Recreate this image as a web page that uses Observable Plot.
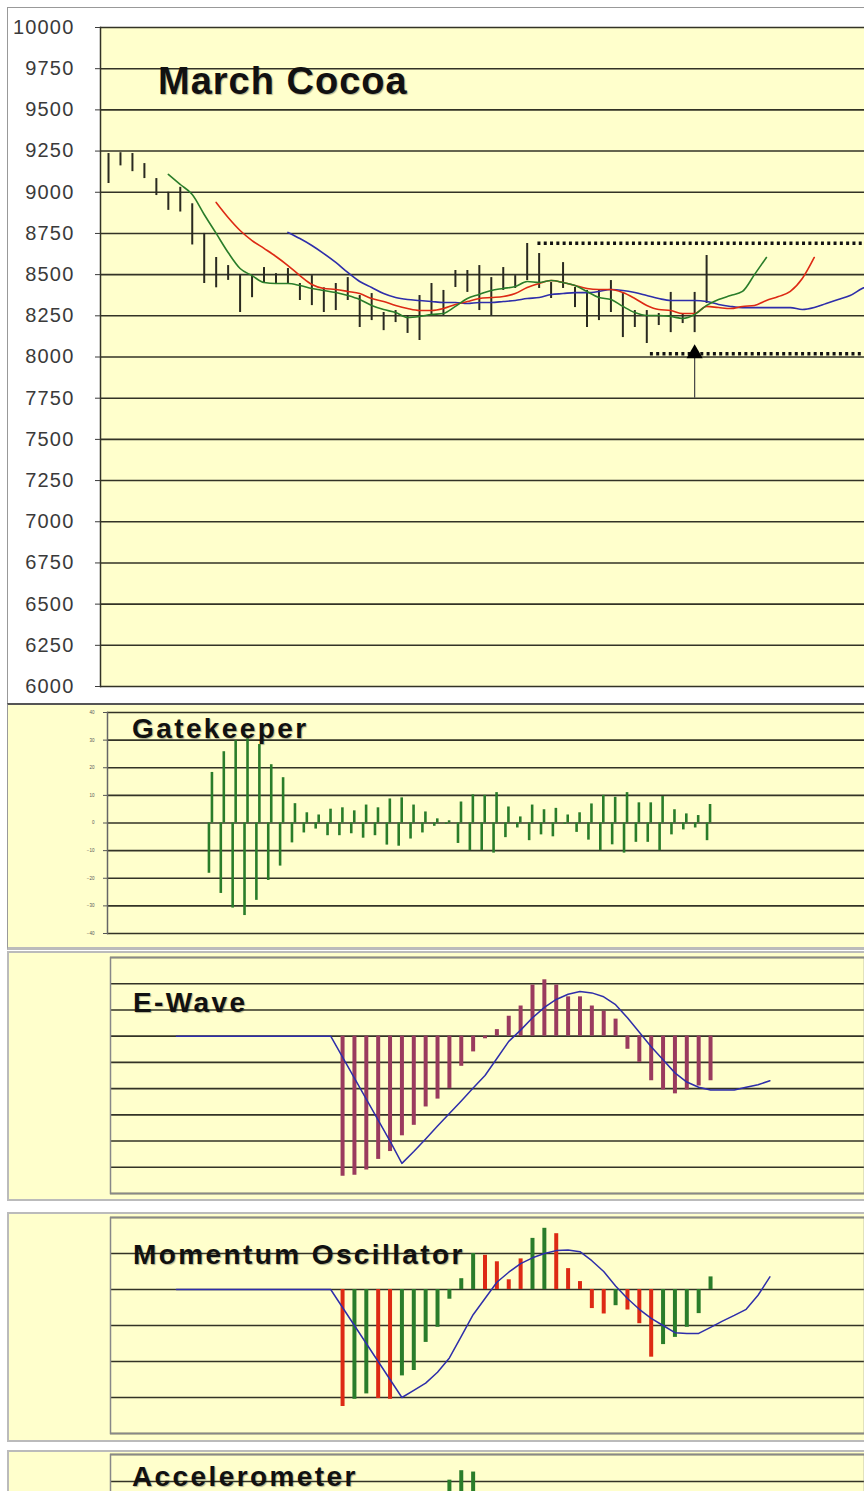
<!DOCTYPE html>
<html><head><meta charset="utf-8">
<script src="https://cdn.jsdelivr.net/npm/d3@7"></script>
<script src="https://cdn.jsdelivr.net/npm/@observablehq/plot@0.6"></script>
<style>
body{margin:0;background:#fff;}
#root{position:relative;width:864px;height:1491px;overflow:hidden;background:#fff;font-family:"Liberation Sans",Arial,sans-serif;}
.box{position:absolute;box-sizing:border-box;}
.chart{position:absolute;left:0;}
.title{position:absolute;font-weight:bold;font-size:28px;letter-spacing:2.4px;color:#111;white-space:nowrap;line-height:1;text-shadow:1px 1px 1px rgba(0,0,0,0.3);}
</style></head><body><div id="root"></div>
<script>
// ---------- DATA ----------
const priceTicks = [6000,6250,6500,6750,7000,7250,7500,7750,8000,8250,8500,8750,9000,9250,9500,9750,10000];
const priceHigh = [9235,9240,9235,9174,9083,9000,9030,8930,8750,8604,8555,8500,8494,8543,8506,8537,8446,8494,8420,8446,8482,8373,8385,8270,8282,8252,8373,8446,8404,8525,8525,8555,8482,8543,8494,8689,8628,8452,8573,8422,8404,8404,8464,8385,8282,8282,8264,8392,8264,8392,8616];
const priceLow  = [9053,9160,9125,9083,8980,8890,8880,8680,8446,8420,8465,8270,8360,8446,8446,8446,8343,8312,8270,8282,8343,8179,8221,8160,8209,8143,8100,8252,8252,8422,8392,8282,8252,8404,8416,8464,8416,8355,8416,8300,8179,8221,8270,8118,8179,8082,8191,8148,8203,8148,8325];
const maShortStart = 5;
const maShort = [9108,9047,8986,8865,8750,8634,8537,8494,8452,8446,8446,8434,8416,8404,8391,8373,8349,8313,8288,8270,8240,8246,8258,8264,8307,8355,8380,8404,8416,8428,8458,8452,8464,8452,8434,8398,8361,8349,8307,8270,8252,8252,8246,8234,8258,8313,8349,8373,8398,8500,8604];
const maMidStart = 9;
const maMid = [8938,8847,8768,8707,8659,8610,8555,8494,8440,8416,8410,8398,8385,8355,8337,8313,8294,8282,8282,8294,8319,8337,8355,8361,8367,8385,8422,8446,8464,8452,8434,8416,8410,8410,8391,8355,8313,8288,8282,8264,8264,8307,8300,8294,8307,8313,8343,8367,8398,8476,8604];
const maLongStart = 15;
const maLong = [8756,8719,8677,8628,8574,8513,8458,8422,8385,8361,8349,8343,8337,8331,8331,8325,8331,8331,8337,8343,8355,8361,8379,8385,8391,8391,8398,8410,8404,8391,8373,8355,8343,8343,8343,8337,8319,8307,8300,8300,8300,8300,8300,8288,8300,8325,8349,8373,8416,8446];
const levelValues = [8690, 8020];     // resistance, support
const levelStartDays = [35.9, 45.3];
const signalDays = [49];
const signalLows = [7750];
const signalLevels = [8020];

const gkTicks = [-40,-30,-20,-10,0,10,20,30,40];
const gkStart = 8;
const gkUp = [18.3,25.8,29.8,30.5,28.4,21.1,16.4,7.0,3.7,2.9,5.0,5.5,4.4,6.5,5.5,8.7,9.1,6.5,4.0,1.5,0.8,7.6,10.2,10,11,5.8,2.2,6.5,4.8,5.3,2.9,3.7,6.9,10,9.3,11,7.3,7.3,9.6,4.8,3.3,2.7,6.7];
const gkDown = [-18.2,-25.5,-30.8,-33.5,-28,-20.8,-15.6,-7.2,-3.6,-2.2,-4.6,-4.6,-3.9,-5.5,-4.6,-8.0,-8.4,-5.8,-3.6,-1.2,-0.5,-7.4,-10,-10,-10.9,-5.3,-1.8,-6.4,-4.3,-5,-0.5,-3.4,-6.2,-10,-7.9,-10.9,-7,-7,-10,-4.3,-2.5,-1.8,-6.4];

const ewTicks = [-6,-5,-4,-3,-2,-1,0,1,2,3];
const ewBarStart = 19;
const ewBars = [-5.34,-5.3,-5.1,-4.7,-4.4,-3.8,-3.4,-2.7,-2.4,-2.0,-1.15,-0.6,-0.1,0.25,0.76,1.15,1.95,2.15,1.95,1.5,1.5,1.15,0.95,0.65,-0.5,-1.0,-1.7,-2.05,-2.2,-2.05,-1.9,-1.7];
const ewLineStart = 5;
const ewLine = [0,0,0,0,0,0,0,0,0,0,0,0,0,0,-0.8,-1.6,-2.4,-3.2,-4.0,-4.85,-4.4,-3.92,-3.43,-2.95,-2.47,-1.98,-1.5,-0.85,-0.2,0.23,0.7,1.1,1.4,1.6,1.7,1.65,1.5,1.2,0.7,0.15,-0.4,-0.9,-1.4,-1.75,-1.95,-2.05,-2.05,-2.05,-1.95,-1.85,-1.7];

const momTicks = [-4,-3,-2,-1,0,1,2];
const momBarStart = 19;
const momBars = [-3.25,-3.05,-2.9,-3.03,-3.05,-2.4,-2.25,-1.47,-1.05,-0.27,0.3,1.0,0.95,0.77,0.27,0.85,1.42,1.7,1.55,0.58,0.22,-0.53,-0.68,-0.45,-0.57,-0.95,-1.88,-1.53,-1.33,-1.05,-0.67,0.35];
const momDir = ["dn","up","up","dn","dn","up","up","up","up","up","up","up","dn","dn","dn","dn","up","up","dn","dn","dn","dn","dn","up","dn","dn","dn","up","up","up","up","up"];
const momLineStart = 5;
const momLine = [0,0,0,0,0,0,0,0,0,0,0,0,0,0,-0.5,-1.0,-1.5,-2.0,-2.5,-3.0,-2.8,-2.6,-2.3,-1.9,-1.3,-0.7,-0.25,0.2,0.48,0.72,0.88,1.0,1.08,1.1,1.05,0.8,0.5,0.1,-0.25,-0.55,-0.8,-1.0,-1.2,-1.22,-1.22,-1.05,-0.88,-0.72,-0.55,-0.16,0.35];

const accTicks = [-4,-3,-2,-1,0,1,2];
const accStart = 28;
const accBars = [1.05,1.4,1.35];

const titles = ["March Cocoa","Gatekeeper","E-Wave","Momentum Oscillator","Accelerometer"];

// ---------- STYLE ----------
const YEL = "#FFFFCC", GRID = "#333326", GREEN = "#2a7d2a", RED = "#dd2a14", BLUE = "#2e2eaa", MAROON = "#9a3b5e";
const font = "Liberation Sans, Arial, sans-serif";
const root = document.getElementById("root");
function box(top, height, css) {
  const d = document.createElement("div"); d.className = "box";
  d.style.cssText = `left:7px;top:${top}px;width:900px;height:${height}px;` + css;
  root.appendChild(d);
}
function place(svg, top) { svg.classList.add("chart"); svg.style.top = top + "px"; root.appendChild(svg); }
function title(text, left, top, size, ls) {
  const d = document.createElement("div"); d.className = "title"; d.textContent = text;
  d.style.left = left + "px"; d.style.top = top + "px";
  if (size) d.style.fontSize = size + "px";
  if (ls != null) d.style.letterSpacing = ls + "px";
  root.appendChild(d);
}
const series = (start, arr) => arr.map((v, k) => ({day: start + k, value: v}));

box(7, 697, "background:#fff;border:1px solid #999;");
box(703, 247, `background:${YEL};border-top:2px solid #555;border-left:1px solid #999;border-bottom:3px solid #bbb;`);
box(951, 250, `background:${YEL};border:2px solid #bbb;`);
box(1212, 230, `background:${YEL};border:2px solid #bbb;`);
box(1450, 60, `background:${YEL};border:2px solid #bbb;`);

// ---------- PRICE ----------
const bars = priceHigh.map((h, i) => ({day: i, high: h, low: priceLow[i]}));
const levels = levelValues.map((v, k) => ({value: v, from: levelStartDays[k]}));
const signals = signalDays.map((d, k) => ({day: d, low: signalLows[k], level: signalLevels[k]}));
const xPrice = [-0.67, 63.2];
place(Plot.plot({
  width: 864, height: 704, marginLeft: 100, marginRight: 0, marginTop: 27, marginBottom: 18,
  style: {background: "transparent", fontFamily: font, letterSpacing: "1.2px"},
  x: {domain: xPrice, axis: null},
  y: {domain: [6000, 10000], axis: null},
  marks: [
    Plot.frame({fill: YEL, stroke: null}),
    Plot.ruleY(priceTicks, {stroke: GRID, strokeWidth: 1.6}),
    Plot.frame({anchor: "left", stroke: GRID, strokeWidth: 1.5}),
    Plot.axisY({ticks: priceTicks, tickSize: 5, tickPadding: 21, fontSize: 20, color: "#3a3a3a", tickFormat: d => String(d), label: null}),
    Plot.ruleY(levels, {y: "value", x1: "from", x2: xPrice[1], stroke: "#111", strokeWidth: 3.5, strokeDasharray: "3,3.3"}),
    Plot.ruleX(signals, {x: "day", y1: "low", y2: "level", stroke: "#444", strokeWidth: 1.2}),
    Plot.dot(signals, {x: "day", y: "level", symbol: "triangle", r: 6, fill: "#000", stroke: null}),
    Plot.ruleX(bars, {x: "day", y1: "low", y2: "high", stroke: "#2a2a20", strokeWidth: 2}),
    Plot.line(series(maLongStart, maLong), {x: "day", y: "value", stroke: BLUE, strokeWidth: 1.6, curve: "monotone-x", clip: true}),
    Plot.line(series(maMidStart, maMid), {x: "day", y: "value", stroke: RED, strokeWidth: 1.6, curve: "monotone-x", clip: true}),
    Plot.line(series(maShortStart, maShort), {x: "day", y: "value", stroke: GREEN, strokeWidth: 1.6, curve: "monotone-x", clip: true})
  ]
}), 0);

// ---------- GATEKEEPER ----------
const xGk = [-0.68, 63.15];
place(Plot.plot({
  width: 864, height: 246, marginLeft: 107, marginRight: 0, marginTop: 9, marginBottom: 16,
  style: {background: "transparent", fontFamily: font},
  x: {domain: xGk, axis: null},
  y: {domain: [-40, 40], axis: null},
  marks: [
    Plot.ruleY(gkTicks, {stroke: GRID, strokeWidth: 1.6}),
    Plot.frame({anchor: "left", stroke: "#666", strokeWidth: 1.5}),
    Plot.axisY({ticks: gkTicks, tickSize: 4, tickPadding: 9, fontSize: 4.5, color: "#555", label: null}),
    Plot.ruleX(series(gkStart, gkDown), {x: "day", y1: 0, y2: "value", stroke: GREEN, strokeWidth: 2.6, dx: -1.5}),
    Plot.ruleX(series(gkStart, gkUp), {x: "day", y1: 0, y2: "value", stroke: GREEN, strokeWidth: 2.6, dx: 1.5})
  ]
}), 703);

// ---------- E-WAVE ----------
const xInd = [-0.55, 62.97];
place(Plot.plot({
  width: 864, height: 250, marginLeft: 110, marginRight: 0, marginTop: 6, marginBottom: 8,
  style: {background: "transparent", fontFamily: font},
  x: {domain: xInd, axis: null},
  y: {domain: [-6, 3], axis: null},
  marks: [
    Plot.ruleY(ewTicks, {stroke: GRID, strokeWidth: 1.6}),
    Plot.frame({stroke: "#888", strokeWidth: 1.5}),
    Plot.ruleX(series(ewBarStart, ewBars), {x: "day", y1: 0, y2: "value", stroke: MAROON, strokeWidth: 4}),
    Plot.line(series(ewLineStart, ewLine), {x: "day", y: "value", stroke: BLUE, strokeWidth: 1.5})
  ]
}), 951);

// ---------- MOMENTUM ----------
const mom = momBars.map((v, k) => ({day: momBarStart + k, value: v, dir: momDir[k]}));
place(Plot.plot({
  width: 864, height: 229, marginLeft: 110, marginRight: 0, marginTop: 5, marginBottom: 8,
  style: {background: "transparent", fontFamily: font},
  x: {domain: xInd, axis: null},
  y: {domain: [-4, 2], axis: null},
  color: {domain: ["up", "dn"], range: [GREEN, RED]},
  marks: [
    Plot.ruleY(momTicks, {stroke: GRID, strokeWidth: 1.6}),
    Plot.frame({stroke: "#888", strokeWidth: 1.5}),
    Plot.ruleX(mom, {x: "day", y1: 0, y2: "value", stroke: "dir", strokeWidth: 4}),
    Plot.line(series(momLineStart, momLine), {x: "day", y: "value", stroke: BLUE, strokeWidth: 1.5})
  ]
}), 1212);

// ---------- ACCELEROMETER ----------
place(Plot.plot({
  width: 864, height: 176, marginLeft: 110, marginRight: 0, marginTop: 4, marginBottom: 10,
  style: {background: "transparent", fontFamily: font},
  x: {domain: xInd, axis: null},
  y: {domain: [-4, 2], axis: null},
  marks: [
    Plot.ruleY(accTicks, {stroke: GRID, strokeWidth: 1.6}),
    Plot.frame({stroke: "#888", strokeWidth: 1.5}),
    Plot.ruleX(series(accStart, accBars), {x: "day", y1: 0, y2: "value", stroke: GREEN, strokeWidth: 4})
  ]
}), 1450);

title(titles[0], 158, 62, 38, 1);
title(titles[1], 132, 715);
title(titles[2], 133, 989);
title(titles[3], 133, 1241);
title(titles[4], 132, 1463);
</script></body></html>
